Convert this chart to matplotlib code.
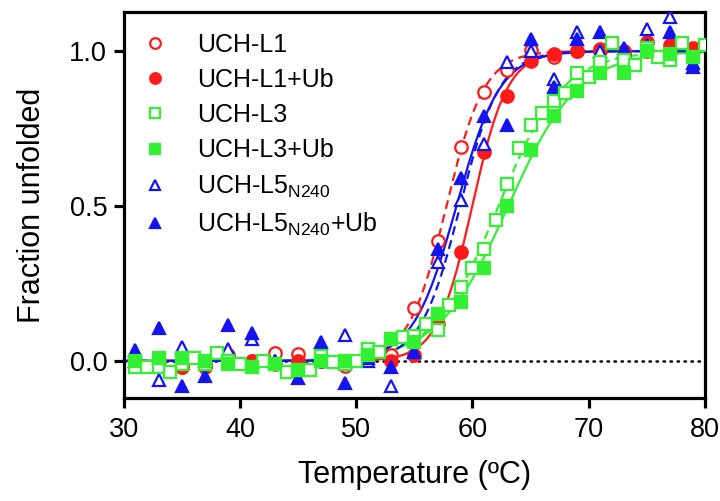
import numpy as np
import matplotlib
matplotlib.use("Agg")
import matplotlib.pyplot as plt

plt.rcParams['font.family'] = ['Liberation Sans', 'DejaVu Sans']
plt.rcParams['mathtext.fontset'] = 'custom'
plt.rcParams['mathtext.rm'] = 'Liberation Sans'
plt.rcParams['mathtext.it'] = 'Liberation Sans'

# ---------------- data ----------------
T_odd = [31, 33, 35, 37, 39, 41, 43, 45, 47, 49, 51, 53, 55, 57, 59, 61, 63, 65,
         67, 69, 71, 73, 75, 77, 79]
T_all = list(range(31, 81))

uchl1 = [0.0, 0.0, -0.02, -0.01, 0.01, 0.0, 0.025, 0.023, 0.0, -0.015, 0.01, 0.02,
         0.17, 0.387, 0.69, 0.868, 0.94, 1.003, 0.98, 1.0, 1.006, 0.99, 1.0, 1.0, 1.0]
uchl1_ub = [0.0, 0.0, -0.02, -0.02, 0.02, 0.0, -0.01, 0.0, 0.0, 0.0, 0.01, 0.0,
            0.02, 0.12, 0.35, 0.674, 0.855, 0.968, 0.99, 1.0, 1.0, 1.0, 1.03, 1.02, 1.01]
uchl3 = [-0.02, -0.02, -0.02, -0.035, -0.01, 0.01, -0.01, 0.025, 0.0, -0.01,
         -0.02, 0.0, -0.01, -0.035, -0.03, -0.03, 0.015, -0.005, -0.01, 0.0,
         0.04, 0.03, 0.07, 0.077, 0.08, 0.12, 0.10, 0.18, 0.24, 0.30,
         0.36, 0.455, 0.57, 0.687, 0.76, 0.80, 0.84, 0.865, 0.93, 0.916,
         0.965, 1.025, 0.97, 0.955, 1.01, 0.98, 0.97, 1.025, 0.98, 1.02]
uchl3_ub = [0.0, 0.01, 0.01, 0.0, -0.01, -0.02, -0.01, -0.03, 0.0, 0.0, 0.02, 0.07,
            0.06, 0.15, 0.19, 0.30, 0.50, 0.68, 0.79, 0.87, 0.93, 0.93, 1.0, 0.99, 0.98]
uchl5 = [0.0, -0.06, 0.045, 0.0, 0.04, 0.07, 0.0, -0.03, 0.0, 0.084, 0.0, -0.08,
         0.03, 0.32, 0.52, 0.70, 0.965, 1.0, 0.91, 1.06, 1.0, 1.0, 1.07, 1.11, 0.96]
uchl5_ub = [0.035, 0.106, -0.08, -0.05, 0.115, 0.09, 0.0, -0.055, 0.06, -0.07, 0.01,
            -0.02, 0.03, 0.36, 0.59, 0.79, 0.76, 1.04, 0.885, 1.04, 1.06, 1.01, 1.02,
            1.06, 0.95]

labels = ['UCH-L1', 'UCH-L1+Ub', 'UCH-L3', 'UCH-L3+Ub',
          r'UCH-L5$_{\mathrm{N240}}$', r'UCH-L5$_{\mathrm{N240}}$+Ub']

RED = '#ff1a1a'
GREEN = '#33f033'
BLUE = '#1414f0'


def boltzmann(t, tm, m):
    return 1.0 / (1.0 + np.exp((tm - t) / m))


def fit(t, y):
    t = np.asarray(t, float)
    y = np.asarray(y, float)
    tms = np.arange(50, 70, 0.02)
    best = None
    for m in np.arange(0.5, 5, 0.02):
        pred = boltzmann(t[None, :], tms[:, None], m)
        sse = ((pred - y[None, :]) ** 2).sum(axis=1)
        i = np.argmin(sse)
        if best is None or sse[i] < best[0]:
            best = (sse[i], tms[i], m)
    return best[1], best[2]


fig = plt.figure(figsize=(7.2, 5.01), dpi=100)
ax = fig.add_axes([0.172, 0.206, 0.807, 0.770])

tt = np.linspace(30, 80, 600)
ax.plot([30, 80], [0, 0], color='black', lw=1.8, ls=(0, (0.6, 2.2)),
        dash_capstyle='round', zorder=1)

DASH = (0, (4, 2.5))
data = [
    (T_odd, uchl1, RED, 'o', False, DASH),
    (T_odd, uchl1_ub, RED, 'o', True, '-'),
    (T_all, uchl3, GREEN, 's', False, DASH),
    (T_odd, uchl3_ub, GREEN, 's', True, '-'),
    (T_odd, uchl5, BLUE, '^', False, DASH),
    (T_odd, uchl5_ub, BLUE, '^', True, '-'),
]

for t, y, c, mk, filled, ls in data:
    tm, m = fit(t, y)
    ax.plot(tt, boltzmann(tt, tm, m), color=c, lw=1.6, ls=ls, zorder=2)

order = [0, 1, 4, 5, 2, 3]
handles = {}
for k, idx in enumerate(order):
    t, y, c, mk, filled, ls = data[idx]
    ms = 9 if mk != '^' else 8.5
    h, = ax.plot(t, y, ls='none', marker=mk, ms=ms,
                 mfc=c if filled else 'white', mec=c, mew=1.6, zorder=3 + k)
    handles[idx] = h

ax.legend([handles[i] for i in range(6)], labels, loc='upper left',
          bbox_to_anchor=(-0.02, 1.005), frameon=False, fontsize=18,
          handletextpad=0.9, labelspacing=0.45, borderaxespad=0.5,
          handlelength=1.6, markerscale=0.85)

ax.set_xlim(30, 80)
ax.set_ylim(-0.119, 1.126)
ax.set_xticks([30, 40, 50, 60, 70, 80])
ax.set_yticks([0.0, 0.5, 1.0])
ax.set_yticklabels(['0.0', '0.5', '1.0'])
for s in ax.spines.values():
    s.set_linewidth(2.3)
ax.tick_params(axis='both', which='major', direction='out', length=7,
               width=2.3, pad=5, labelsize=19.5)
ax.tick_params(axis='x', pad=7)
ax.set_xlabel('Temperature (ºC)', fontsize=22, labelpad=12)
ax.set_ylabel('Fraction unfolded', fontsize=22, labelpad=16)

fig.savefig('out.png', dpi=100)
